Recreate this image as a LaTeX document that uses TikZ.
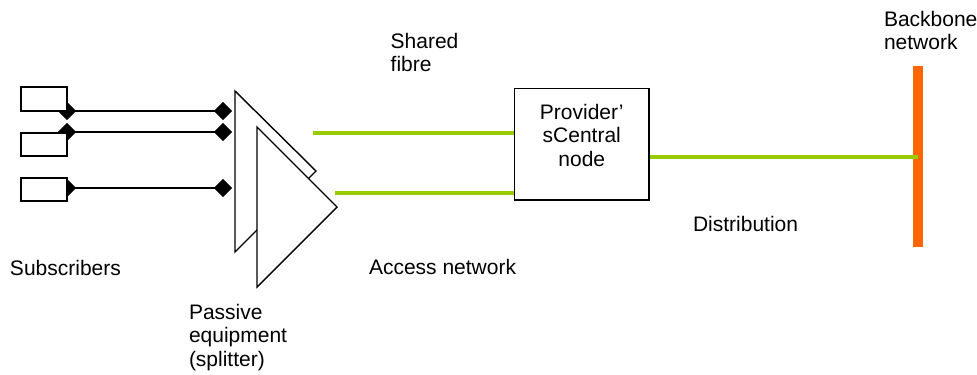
\documentclass[tikz,border=0pt]{standalone}
\usepackage{fontspec}
\setmainfont{Liberation Sans}
\usetikzlibrary{shapes.geometric}
\definecolor{fibregreen}{RGB}{153,204,0}
\definecolor{backboneorange}{RGB}{255,102,0}

\begin{document}
\begin{tikzpicture}[x=0.5pt,y=-0.5pt,line width=0.7pt,
  font=\fontsize{10.5}{11.75}\selectfont,
  subbox/.style={draw,fill=white,line width=0.8pt,minimum width=23pt,minimum height=11.75pt,inner sep=0pt},
  plug/.style={diamond,fill=black,minimum size=9.5pt,inner sep=0pt},
  fibre/.style={draw=fibregreen,line width=2pt},
  lbl/.style={anchor=base west,align=left,inner sep=0pt}]
\useasboundingbox (0,0) rectangle (977,374);
% subscriber lines with their plugs
\foreach \i/\y in {1/111,2/132,3/188}{
\node[plug] (subplug\i) at (67,\y) {};
\node[plug] (splitin\i) at (223,\y) {};
\draw (subplug\i.center) -- (splitin\i.center);
}
\node[subbox] (sub1) at (44,99) {};
\node[subbox] (sub2) at (44,144.5) {};
\node[subbox] (sub3) at (44,189.5) {};
% splitter
\draw[fill=white] (235,91) -- (235,252) -- (316,171) -- cycle;
\draw[fill=white] (257,127) -- (257,287) -- (337,207) -- cycle;
% central node and backbone
\node[draw,line width=0.8pt,minimum width=67.25pt,minimum height=55.85pt] (central) at (581.75,144.2) {};
\node[anchor=base,align=center,inner sep=0pt] (centraltext) at (581.75,166) {Provider’\\sCentral\\node};
\node[fill=backboneorange,minimum width=5pt,minimum height=90.5pt,inner sep=0pt] (backbone) at (918.3,156.5) {};
\coordinate (fibreA) at (313,133.3);
\coordinate (fibreB) at (335,192.5);
\draw[fibre] (fibreA) -- (fibreA -| central.west);
\draw[fibre] (fibreB) -- (fibreB -| central.west);
\draw[fibre] (central.east |- backbone) -- (backbone.center);
% labels (multi-line ones sit on their last line)
\node[lbl] (subscribers) at (9.3,275) {Subscribers};
\node[lbl] (splitter) at (188.3,366) {Passive\\equipment\\(splitter)};
\node[lbl] (shared) at (390,71.7) {Shared\\fibre};
\node[lbl] (access) at (368.3,274.3) {Access network};
\node[lbl] (distribution) at (692.3,231.7) {Distribution};
\node[lbl] (backbonelbl) at (883.3,50) {Backbone\\network};
\end{tikzpicture}
\end{document}
